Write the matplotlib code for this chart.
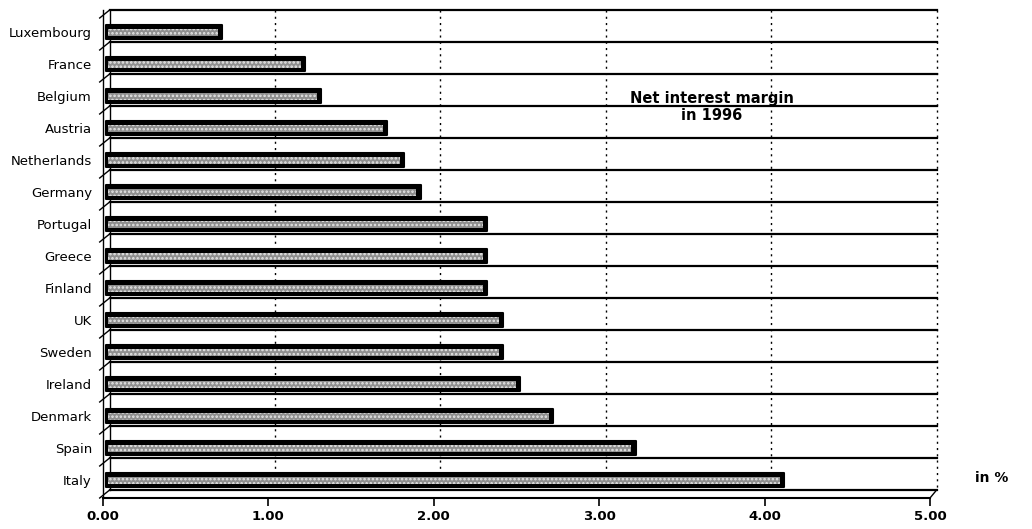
import matplotlib.pyplot as plt

# Net interest margin by country, 1996 (in %)
countries = ["Luxembourg", "France", "Belgium", "Austria", "Netherlands",
             "Germany", "Portugal", "Greece", "Finland", "UK", "Sweden",
             "Ireland", "Denmark", "Spain", "Italy"]
margins = [0.7, 1.2, 1.3, 1.7, 1.8, 1.9, 2.3, 2.3, 2.3, 2.4, 2.4, 2.5, 2.7, 3.2, 4.1]
x_ticks = [0, 1, 2, 3, 4, 5]
x_tick_labels = ["0.00", "1.00", "2.00", "3.00", "4.00", "5.00"]

plt.rcParams['font.family'] = ['DejaVu Sans']
plt.rcParams['hatch.linewidth'] = 1.2

W, H = 1032, 529
fig = plt.figure(figsize=(W / 100, H / 100), dpi=100)
# axes box in pixels: front axis runs 103..930, rows span 10..498
ax = fig.add_axes([103 / W, (H - 498) / H, 827 / W, 488 / H])

n = len(countries)
y_top = -0.6875
y_bot = n - 1 + 0.5625
ax.set_xlim(0, 5)
ax.set_ylim(y_bot, y_top)

# pseudo-3D depth of the back wall (x in value units, y in rows)
dx = 0.04
dy = -0.25
y_back_bot = y_top + n

# back wall: row separators, dotted gridlines, edges
for k in range(n + 1):
    y = y_top + k
    ax.plot([dx, 5 + dx], [y, y], color='black', lw=1.6, clip_on=False, zorder=1)
    # category tick turning into the floor
    ax.plot([-0.02, dx], [y - dy, y], color='black', lw=1.0, clip_on=False, zorder=1)
for v in x_ticks[1:]:
    ax.plot([v + dx, v + dx], [y_top, y_back_bot], color='black', lw=1.0,
            ls=(0, (1.5, 3)), clip_on=False, zorder=1)
ax.plot([dx, dx], [y_top, y_back_bot], color='black', lw=1.0, clip_on=False, zorder=1)
ax.plot([5, 5 + dx], [y_bot, y_back_bot], color='black', lw=1.0, clip_on=False, zorder=1)

# bars: dark body with a speckled grey face
off = dx / 2
ax.barh(range(n), margins, left=off, height=0.42, color='black',
        edgecolor='black', lw=1.5, joinstyle='round', zorder=3)
ax.barh([i + 0.02 for i in range(n)], [m - 0.035 for m in margins], left=off + 0.01,
        height=0.24, color='#8f8f8f', edgecolor='#e6e6e6', hatch='....', lw=0, zorder=4)

for s in ['top', 'right']:
    ax.spines[s].set_visible(False)
ax.spines['bottom'].set_linewidth(1.5)
ax.spines['left'].set_linewidth(1.0)

ax.set_xticks(x_ticks)
ax.set_xticklabels(x_tick_labels, fontweight='bold', fontsize=9.5)
ax.tick_params(axis='x', direction='out', length=6, width=1.2, pad=3)
ax.set_yticks(range(n))
ax.set_yticklabels(countries, fontsize=9.5)
ax.tick_params(axis='y', length=0, pad=8)

ax.text(3.68, 2.35, "Net interest margin\nin 1996", ha='center', va='center',
        fontweight='bold', fontsize=10.5, linespacing=1.2, zorder=5)
fig.text(992 / W, 1 - 478 / H, "in %", ha='center', va='center',
         fontweight='bold', fontsize=10)

fig.savefig("out.png", dpi=100)
